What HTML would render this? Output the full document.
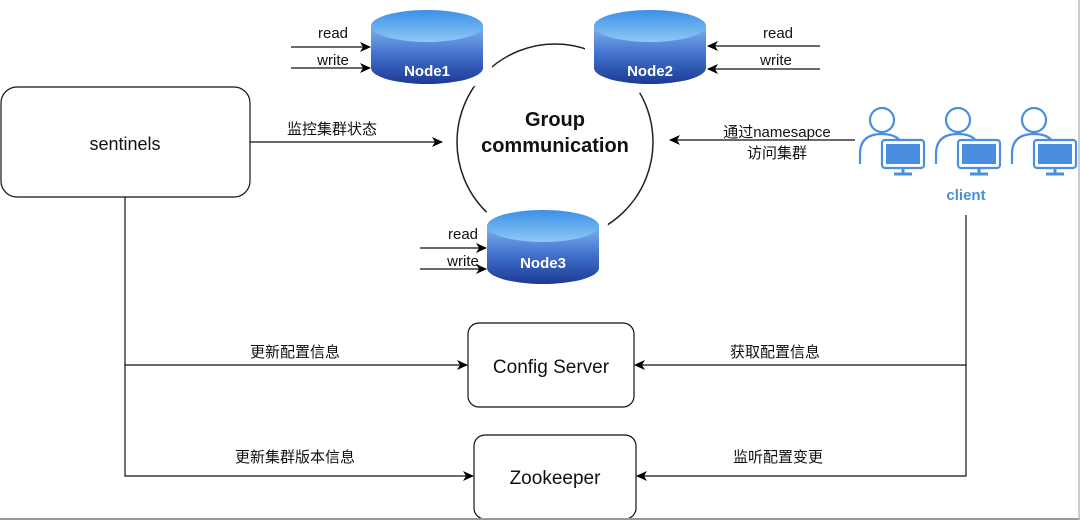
<!DOCTYPE html>
<html><head><meta charset="utf-8"><style>
html,body{margin:0;padding:0;background:#fff;}
svg{display:block;}
text{font-family:"Liberation Sans","Noto Sans CJK SC",sans-serif;}
</style></head><body>
<svg width="1080" height="520" viewBox="0 0 1080 520" xmlns="http://www.w3.org/2000/svg">
<defs>
<linearGradient id="body" x1="0" y1="0" x2="0" y2="1">
<stop offset="0" stop-color="#7fb2ee"/><stop offset="0.5" stop-color="#4170cc"/><stop offset="1" stop-color="#1c3a94"/></linearGradient>
<linearGradient id="top" x1="0" y1="0" x2="0" y2="1">
<stop offset="0" stop-color="#3d8fe6"/><stop offset="1" stop-color="#8ccaf6"/></linearGradient>
<marker id="ar" markerWidth="12" markerHeight="12" refX="10" refY="6" orient="auto" markerUnits="userSpaceOnUse">
<path d="M0,1 L11,6 L0,11 L3,6 z" fill="#000"/></marker>
<path id="cylo" d="M0,16 L0,58 A56,16 0 0 0 112,58 L112,16 A56,16 0 0 0 0,16 Z"/>
<g id="cyl">
<path d="M0,16 L0,58 A56,16 0 0 0 112,58 L112,16 Z" fill="url(#body)"/>
<ellipse cx="56" cy="16" rx="56" ry="16" fill="url(#top)"/>
</g>
<g id="cli" fill="none" stroke="#4a8ee0" stroke-width="2.2">
<circle cx="24" cy="16" r="12" fill="#fff"/>
<path d="M2,60 L2,50 Q2,30 24,30 Q46,30 46,50" fill="#fff"/>
<rect x="24" y="36" width="42" height="28" rx="3" fill="#fff"/>
<rect x="28" y="40" width="34" height="20" fill="#4a8ee0" stroke="none"/>
<path d="M45,64 L45,70 M36,70 L54,70" stroke-width="3"/>
</g>
</defs>

<circle cx="555" cy="142" r="98" fill="none" stroke="#222" stroke-width="1.5"/>
<g fill="#fff" stroke="#fff" stroke-width="18" stroke-linejoin="round">
<use href="#cylo" x="371" y="10"/>
<use href="#cylo" x="594" y="10"/>
<use href="#cylo" x="487" y="210"/>
</g>
<use href="#cyl" x="371" y="10"/>
<use href="#cyl" x="594" y="10"/>
<use href="#cyl" x="487" y="210"/>
<g font-weight="bold" font-size="15" fill="#fff" text-anchor="middle">
<text x="427" y="76">Node1</text>
<text x="650" y="76">Node2</text>
<text x="543" y="268">Node3</text>
</g>
<text x="555" y="126" font-size="20" font-weight="bold" text-anchor="middle" fill="#111">Group</text>
<text x="555" y="152" font-size="20" font-weight="bold" text-anchor="middle" fill="#111">communication</text>

<g stroke="#111" stroke-width="1.2" fill="none">
<line x1="291" y1="47" x2="370" y2="47" marker-end="url(#ar)"/>
<line x1="291" y1="68" x2="370" y2="68" marker-end="url(#ar)"/>
<line x1="820" y1="46" x2="708" y2="46" marker-end="url(#ar)"/>
<line x1="820" y1="69" x2="708" y2="69" marker-end="url(#ar)"/>
<line x1="420" y1="248" x2="486" y2="248" marker-end="url(#ar)"/>
<line x1="420" y1="269" x2="486" y2="269" marker-end="url(#ar)"/>
<line x1="250" y1="142" x2="442" y2="142" marker-end="url(#ar)"/>
<line x1="855" y1="140" x2="670" y2="140" marker-end="url(#ar)"/>
<polyline points="125,197 125,476 473,476" marker-end="url(#ar)"/>
<line x1="125" y1="365" x2="467" y2="365" marker-end="url(#ar)"/>
<polyline points="966,215 966,476 637,476" marker-end="url(#ar)"/>
<line x1="966" y1="365" x2="635" y2="365" marker-end="url(#ar)"/>
<rect x="1" y="87" width="249" height="110" rx="16" fill="#fff"/>
<rect x="468" y="323" width="166" height="84" rx="11" fill="#fff"/>
<rect x="474" y="435" width="162" height="84" rx="11" fill="#fff"/>
</g>
<g font-size="15" fill="#111" text-anchor="middle">
<text x="333" y="38">read</text>
<text x="333" y="65">write</text>
<text x="778" y="38">read</text>
<text x="776" y="65">write</text>
<text x="463" y="239">read</text>
<text x="463" y="266">write</text>
<text x="332" y="134" font-size="15">监控集群状态</text>
<text x="777" y="137" font-size="15">通过namesapce</text>
<text x="777" y="158" font-size="15">访问集群</text>
<text x="295" y="357">更新配置信息</text>
<text x="775" y="357">获取配置信息</text>
<text x="295" y="462">更新集群版本信息</text>
<text x="778" y="462">监听配置变更</text>
<text x="125" y="150" font-size="18">sentinels</text>
<text x="551" y="373" font-size="19">Config Server</text>
<text x="555" y="484" font-size="19">Zookeeper</text>
</g>
<use href="#cli" x="858" y="104"/>
<use href="#cli" x="934" y="104"/>
<use href="#cli" x="1010" y="104"/>
<text x="966" y="200" font-size="15" font-weight="bold" fill="#4a8ee0" text-anchor="middle">client</text>
<line x1="0" y1="519" x2="1080" y2="519" stroke="#999" stroke-width="2"/>
<line x1="1079" y1="0" x2="1079" y2="520" stroke="#bbb" stroke-width="1.5"/>
</svg>
</body></html>
